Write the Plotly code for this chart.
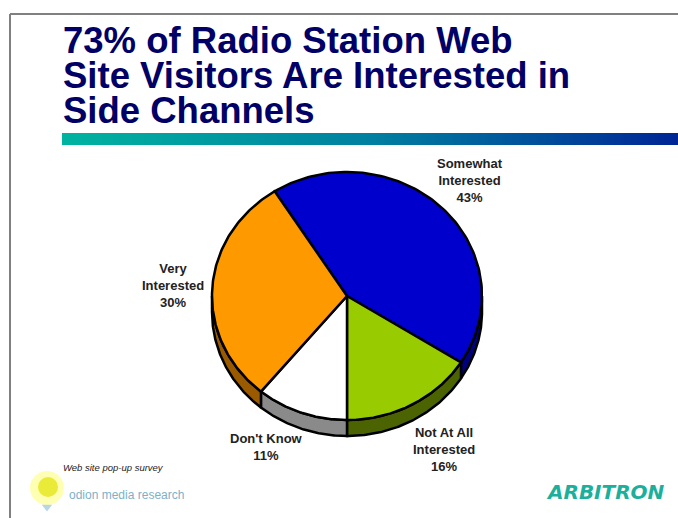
import numpy as np
import plotly.graph_objects as go

# Survey answers, in clockwise order around the pie
categories = ["Somewhat<br>Interested", "Not At All<br>Interested", "Don't Know", "Very<br>Interested"]
shares = [43, 16, 11, 30]

title_lines = ["73% of Radio Station Web", "Site Visitors Are Interested in", "Side Channels"]
source_note = "Web site pop-up survey"

# Styling
top_colors = ["#0000cc", "#99cc00", "#ffffff", "#ff9900"]
side_colors = ["#00007e", "#4b6300", "#8a8a8a", "#9a5a00"]
label_pos = [(470, 180), (444, 449), (266, 447), (173, 285)]

W, H = 678, 518
CX, CY, RX, RY, DEPTH = 347, 296, 135, 124, 16
# boundary between "Not At All" and "Don't Know" points straight down
total = float(sum(shares))
cum = np.concatenate([[0.0], np.cumsum(shares)]) / total * 360.0
start = -90.0 + cum[2]

fig = go.Figure()


def ellipse_pts(t_from, t_to, dy=0.0, n=80):
    t = np.radians(np.linspace(t_from, t_to, n))
    return CX + RX * np.cos(t), CY - RY * np.sin(t) + dy


# visible side walls (front half of the pie)
for i in range(len(shares)):
    t_hi = start - cum[i]
    t_lo = start - cum[i + 1]
    for k in (-1, 0, 1):
        a = max(t_lo, -180 + 360 * k)
        b = min(t_hi, 0 + 360 * k)
        if b - a <= 0.01:
            continue
        xt, yt = ellipse_pts(b, a)
        xb, yb = ellipse_pts(a, b, DEPTH)
        xs = np.concatenate([xt, xb, xt[:1]])
        ys = np.concatenate([yt, yb, yt[:1]])
        fig.add_trace(go.Scatter(x=xs, y=ys, mode="lines", fill="toself",
                                 fillcolor=side_colors[i],
                                 line=dict(color="black", width=2.5),
                                 hoverinfo="skip", showlegend=False))

# top faces of the slices
for i in range(len(shares)):
    t_hi = start - cum[i]
    t_lo = start - cum[i + 1]
    xa, ya = ellipse_pts(t_hi, t_lo, n=120)
    xs = np.concatenate([[CX], xa, [CX]])
    ys = np.concatenate([[CY], ya, [CY]])
    fig.add_trace(go.Scatter(x=xs, y=ys, mode="lines", fill="toself",
                             fillcolor=top_colors[i],
                             line=dict(color="black", width=2.5),
                             hoverinfo="skip", showlegend=False))

annotations = []
for name, v, (lx, ly) in zip(categories, shares, label_pos):
    annotations.append(dict(x=lx, y=ly, xref="x", yref="y", showarrow=False,
                            text=f"<b>{name}<br>{v}%</b>", align="center",
                            xanchor="center", yanchor="middle",
                            font=dict(family="Liberation Sans, Arial", size=13, color="#222222")))

# title
for j, line in enumerate(title_lines):
    annotations.append(dict(x=61, y=40 + 35 * j, xref="x", yref="y", showarrow=False,
                            text=f"<b>{line}</b>", xanchor="left", yanchor="middle",
                            font=dict(family="Liberation Sans, Arial", size=36.5, color="#000066")))

annotations.append(dict(x=61, y=467, xref="x", yref="y", showarrow=False,
                        text=f"<i>{source_note}</i>", xanchor="left", yanchor="middle",
                        font=dict(family="Liberation Sans, Arial", size=9.5, color="#222222")))
annotations.append(dict(x=67, y=495, xref="x", yref="y", showarrow=False,
                        text="odion media research", xanchor="left", yanchor="middle",
                        font=dict(family="Liberation Sans, Arial", size=12, color="#7eb0ca")))
annotations.append(dict(x=667, y=492, xref="x", yref="y", showarrow=False,
                        text="<b><i>ARBITRON</i></b>", xanchor="right", yanchor="middle",
                        font=dict(family="DejaVu Sans", size=20, color="#1caf9c")))

# gradient rule under the title
fig.add_trace(go.Scatter(x=[62, W + 2, W + 2, 62, 62], y=[133, 133, 145, 145, 133],
                         mode="lines", fill="toself", line=dict(width=0),
                         fillgradient=dict(type="horizontal",
                                           colorscale=[[0, "#00b3a0"], [0.5, "#0080a0"], [1, "#002596"]]),
                         hoverinfo="skip", showlegend=False))

# bulb logo
fig.add_trace(go.Scatter(x=[47], y=[488], mode="markers",
                         marker=dict(size=34, color="#ffff9a", opacity=0.75, line=dict(width=0)),
                         hoverinfo="skip", showlegend=False))
fig.add_trace(go.Scatter(x=[48], y=[487], mode="markers",
                         marker=dict(size=20, color="#e8e82a", opacity=0.9, line=dict(width=0)),
                         hoverinfo="skip", showlegend=False))
fig.add_trace(go.Scatter(x=[47], y=[507], mode="markers",
                         marker=dict(size=9, color="#a8cce0", opacity=0.8, symbol="triangle-down", line=dict(width=0)),
                         hoverinfo="skip", showlegend=False))

shapes = [
    dict(type="line", xref="x", yref="y", x0=10, y0=14, x1=W + 2, y1=14,
         line=dict(color="#808080", width=2)),
    dict(type="line", xref="x", yref="y", x0=10, y0=14, x1=10, y1=H + 2,
         line=dict(color="#808080", width=2)),
]

fig.update_layout(
    width=W, height=H,
    margin=dict(l=0, r=0, t=0, b=0),
    paper_bgcolor="white", plot_bgcolor="white",
    xaxis=dict(range=[0, W], visible=False, fixedrange=True),
    yaxis=dict(range=[H, 0], visible=False, fixedrange=True),
    annotations=annotations,
    shapes=shapes,
    showlegend=False,
)

fig.write_html("out.html", config={"displayModeBar": False})
